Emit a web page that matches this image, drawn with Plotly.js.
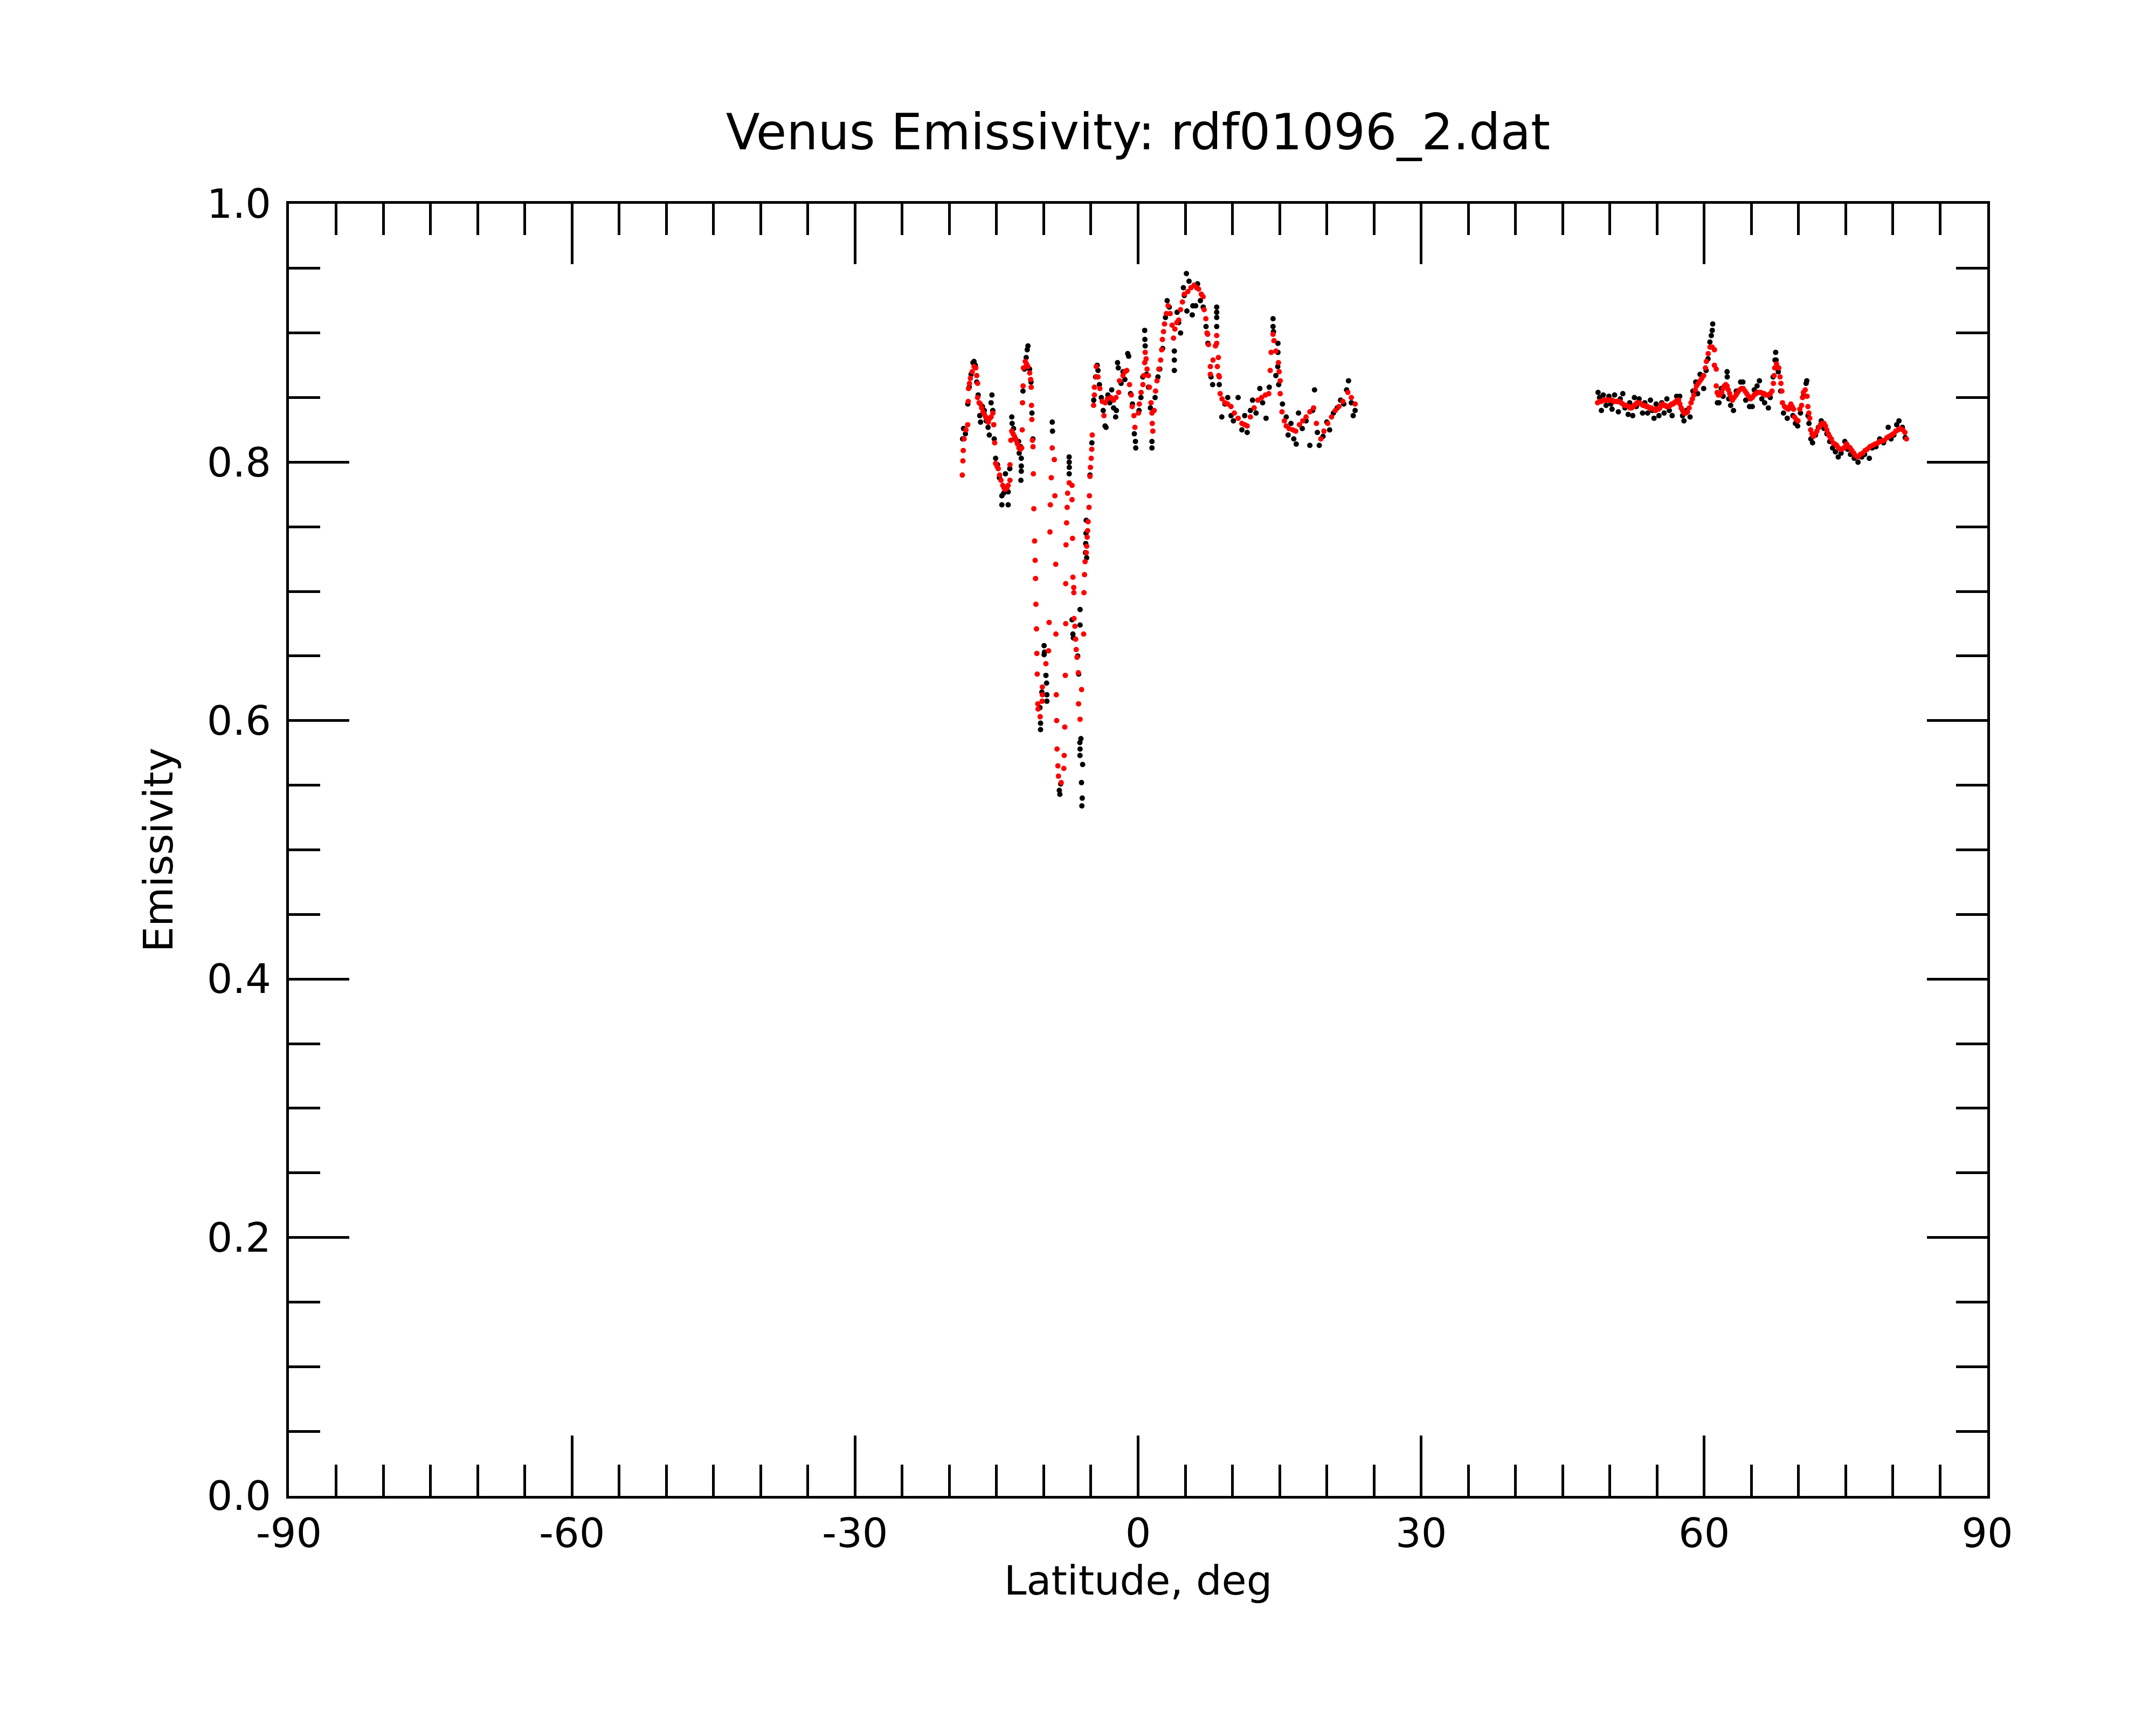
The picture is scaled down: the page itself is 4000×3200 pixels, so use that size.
<!DOCTYPE html>
<html>
<head>
<meta charset="utf-8">
<script src="https://cdn.plot.ly/plotly-3.0.1.min.js"></script>
<style>
  html, body { margin: 0; padding: 0; background: #ffffff; }
  #chart { width: 4000px; height: 3200px; }
</style>
</head>
<body>
<div id="chart"></div>
<script>
// ---------------- DATA ----------------
// Raw emissivity samples (black), southern / equatorial pass
var latBlackS = [-18.60,-18.50,-18.30,-18.05,-17.90,-17.70,-17.50,-17.39,-17.25,-17.10,-16.95,-16.78,-16.70,-16.50,-16.30,-16.10,-15.90,-15.77,-15.58,-15.49,-15.40,-15.25,-15.10,-14.90,-14.70,-14.44,-14.44,-14.25,-14.06,-13.90,-13.77,-13.77,-13.60,-13.39,-13.35,-13.20,-13.00,-12.80,-12.67,-12.60,-12.45,-12.38,-12.38,-12.38,-12.42,-12.20,-12.05,-11.86,-11.75,-11.67,-11.50,-11.35,-11.25,-11.15,
  -10.40,-10.34,-10.34,-10.20,-9.96,-9.92,-9.96,-9.77,-9.70,-9.67,-9.67,-9.10,-9.07,-8.29,-8.35,-8.20,-7.31,-7.30,-7.29,-7.30,-7.00,-6.91,-6.86,-6.40,-6.30,-6.15,-6.15,-6.06,-6.17,-6.15,-6.16,-5.88,-6.00,-5.92,-5.96,-5.50,-5.52,-5.55,-5.58,-5.45,-5.10,-4.90,-4.70,-4.50,-4.34,-4.25,-4.10,-3.90,-3.70,-3.50,-3.40,-3.20,-3.00,-2.80,-2.60,-2.38,-2.30,-2.18,-2.10,-1.80,-1.60,-1.40,-1.10,-1.00,-0.80,-0.60,-0.40,-0.25,-0.28,
  0.10,0.30,0.50,0.70,0.72,0.75,0.90,1.10,1.30,1.47,1.47,1.80,2.10,2.30,2.60,2.90,3.08,3.30,3.84,3.84,3.84,4.13,4.30,4.50,4.80,4.90,5.12,5.17,5.40,5.74,5.80,6.10,6.30,6.60,6.90,7.20,7.40,7.73,7.90,8.33,8.33,8.33,8.33,8.60,8.87,9.20,9.50,9.85,10.10,10.60,11.00,11.30,11.56,11.90,12.13,12.50,12.90,13.20,13.56,13.90,14.30,14.30,14.35,14.60,14.82,14.82,14.80,14.90,15.30,15.70,15.90,16.20,16.50,16.76,17.00,17.40,17.80,18.20,18.50,18.70,19.00,19.20,19.60,20.00,20.30,20.70,21.10,21.46,21.80,22.10,22.30,22.60,22.80,23.00];
var emisBlackS = [0.818,0.826,0.822,0.845,0.858,0.868,0.877,0.878,0.875,0.862,0.852,0.836,0.831,0.843,0.840,0.832,0.827,0.821,0.846,0.852,0.840,0.818,0.803,0.798,0.788,0.774,0.767,0.776,0.791,0.778,0.767,0.777,0.795,0.835,0.830,0.826,0.818,0.815,0.816,0.807,0.812,0.803,0.797,0.793,0.786,0.855,0.872,0.881,0.887,0.890,0.872,0.862,0.838,0.818,
  0.610,0.598,0.593,0.622,0.658,0.653,0.651,0.635,0.629,0.620,0.615,0.831,0.824,0.543,0.546,0.551,0.804,0.800,0.796,0.791,0.678,0.667,0.664,0.650,0.636,0.686,0.674,0.586,0.583,0.578,0.573,0.566,0.552,0.540,0.534,0.755,0.745,0.737,0.730,0.726,0.790,0.815,0.848,0.866,0.875,0.871,0.860,0.850,0.840,0.828,0.827,0.852,0.846,0.856,0.842,0.835,0.840,0.877,0.873,0.861,0.870,0.864,0.884,0.882,0.853,0.845,0.822,0.811,0.816,
  0.840,0.850,0.866,0.902,0.895,0.890,0.868,0.858,0.842,0.811,0.816,0.850,0.866,0.872,0.888,0.912,0.925,0.920,0.886,0.879,0.871,0.916,0.908,0.900,0.935,0.929,0.946,0.917,0.940,0.914,0.921,0.921,0.938,0.925,0.920,0.905,0.892,0.866,0.860,0.920,0.916,0.912,0.905,0.860,0.835,0.845,0.850,0.836,0.832,0.850,0.825,0.836,0.823,0.840,0.848,0.838,0.857,0.846,0.834,0.858,0.911,0.905,0.901,0.867,0.892,0.885,0.874,0.860,0.845,0.835,0.821,0.830,0.818,0.814,0.838,0.826,0.832,0.813,0.840,0.856,0.823,0.813,0.820,0.831,0.825,0.838,0.842,0.848,0.845,0.856,0.863,0.846,0.836,0.840];

// Raw emissivity samples (black), northern pass
var latBlackN = [48.75,48.90,49.10,49.30,49.60,49.90,50.10,50.23,50.50,50.75,50.90,51.10,51.37,51.60,51.94,52.10,52.42,52.60,52.80,53.10,53.46,53.70,54.00,54.30,54.50,54.68,54.90,55.20,55.50,55.75,56.04,56.30,56.60,56.85,57.08,57.40,57.70,57.85,58.10,58.50,58.80,59.10,59.30,59.56,59.94,60.20,60.40,60.60,60.75,60.85,60.90,61.40,61.56,61.80,62.00,62.42,62.44,62.60,62.80,63.10,63.40,63.86,64.10,64.40,64.80,65.09,65.30,65.60,65.85,66.10,66.40,66.80,67.00,67.30,67.50,67.57,67.62,67.85,68.10,68.40,68.80,69.10,69.40,69.66,69.90,70.20,70.50,70.80,70.87,71.00,71.10,71.30,71.48,71.80,72.10,72.40,72.70,73.00,73.30,73.60,73.90,74.20,74.50,74.90,75.20,75.50,75.90,76.30,76.70,77.00,77.50,77.80,78.20,78.60,79.00,79.50,79.80,80.10,80.40,80.64,81.00,81.30];
var emisBlackN = [0.854,0.850,0.840,0.852,0.844,0.851,0.845,0.841,0.852,0.847,0.839,0.849,0.853,0.842,0.837,0.846,0.836,0.850,0.843,0.849,0.838,0.846,0.838,0.848,0.840,0.834,0.845,0.836,0.846,0.838,0.849,0.840,0.836,0.846,0.851,0.851,0.836,0.832,0.840,0.835,0.855,0.862,0.853,0.868,0.857,0.871,0.880,0.893,0.898,0.902,0.907,0.846,0.846,0.857,0.851,0.870,0.866,0.849,0.844,0.840,0.855,0.862,0.862,0.848,0.843,0.843,0.856,0.859,0.863,0.849,0.846,0.842,0.850,0.866,0.879,0.885,0.879,0.870,0.855,0.838,0.834,0.842,0.836,0.830,0.828,0.838,0.851,0.861,0.863,0.836,0.830,0.818,0.815,0.821,0.827,0.832,0.826,0.822,0.816,0.811,0.808,0.804,0.807,0.816,0.810,0.806,0.803,0.800,0.804,0.806,0.803,0.811,0.812,0.818,0.815,0.827,0.818,0.821,0.829,0.832,0.827,0.819];

// Smoothed emissivity (red), southern / equatorial pass
var latRedS = [-18.63,-18.57,-18.53,-18.44,-18.25,-18.06,-18.00,-17.97,-17.87,-17.77,-17.58,-17.39,-17.20,-17.10,-17.01,-17.01,-16.85,-16.72,-16.58,-16.44,-16.30,-16.15,-16.00,-15.87,-15.72,-15.58,-15.39,-15.30,-15.20,-15.10,-14.96,-14.82,-14.68,-14.53,-14.34,-14.20,-14.06,-13.92,-13.77,-13.58,-13.58,-13.49,-13.39,-13.25,-13.10,-12.91,-12.77,-12.63,-12.48,-12.34,-12.28,-12.25,-12.19,-12.15,-11.96,-11.82,-11.67,-11.49,-11.39,-11.33,-11.30,-11.26,-11.20,-11.14,-11.10,-11.05,-10.97,-10.91,-10.87,-10.83,-10.77,-10.73,-10.69,-10.63,-10.60,-10.38,-10.15,-10.15,-10.17,-9.77,-9.49,-9.43,-9.34,-9.30,-9.20,-9.10,-8.88,-8.82,-8.73,-8.71,-8.67,-8.63,-8.59,-8.50,-8.44,-8.15,-7.87,-7.83,-7.77,-7.71,-7.67,-7.67,-7.64,-7.58,-7.52,-7.47,-7.30,-7.00,-7.00,-6.95,-6.91,-6.82,-6.81,-6.79,-6.70,-6.62,-6.56,-6.47,-6.33,-6.31,-6.15,-5.99,-5.77,-5.74,-5.68,-5.62,-5.49,-5.45,-5.40,-5.35,-5.30,-5.20,-5.16,-5.10,-5.05,-4.97,-4.91,-4.86,-4.72,-4.63,-4.63,-4.44,-4.44,-4.25,-4.05,-3.80,-3.62,-3.49,-3.25,-2.90,-2.60,-2.34,-2.06,-1.97,-1.60,-1.40,-1.20,-0.91,-0.72,-0.63,-0.44,-0.34,
  0.04,0.13,0.32,0.51,0.60,0.70,0.75,0.85,0.95,1.09,1.20,1.37,1.47,1.50,1.56,1.70,1.85,2.00,2.20,2.39,2.50,2.58,2.70,2.80,3.00,3.18,3.40,3.60,3.75,3.90,4.10,4.30,4.50,4.70,4.90,5.27,5.60,5.94,6.20,6.41,6.70,6.89,7.00,7.18,7.30,7.37,7.46,7.66,7.66,7.94,8.20,8.33,8.33,8.51,8.40,8.55,8.61,8.70,8.90,9.20,9.50,9.85,10.20,10.60,11.00,11.30,11.56,11.90,12.30,12.70,13.09,13.50,13.85,14.00,14.10,14.30,14.40,14.60,14.87,14.95,15.06,15.06,15.25,15.50,15.70,16.00,16.40,16.70,17.10,17.45,17.80,18.20,18.60,18.90,19.37,19.70,20.10,20.50,20.90,21.28,21.70,22.23,22.60,23.00];
var emisRedS = [0.790,0.801,0.809,0.818,0.825,0.829,0.847,0.857,0.861,0.865,0.870,0.874,0.873,0.867,0.861,0.850,0.846,0.845,0.842,0.839,0.837,0.835,0.833,0.831,0.834,0.835,0.838,0.829,0.815,0.799,0.797,0.795,0.790,0.786,0.782,0.780,0.779,0.780,0.782,0.786,0.798,0.817,0.824,0.822,0.820,0.817,0.814,0.811,0.810,0.811,0.825,0.846,0.859,0.873,0.878,0.876,0.874,0.869,0.864,0.858,0.844,0.833,0.817,0.812,0.791,0.764,0.739,0.724,0.710,0.690,0.671,0.652,0.636,0.613,0.609,0.603,0.626,0.620,0.615,0.644,0.654,0.676,0.746,0.767,0.788,0.811,0.802,0.774,0.721,0.667,0.620,0.600,0.578,0.565,0.557,0.552,0.563,0.573,0.595,0.635,0.675,0.706,0.736,0.753,0.765,0.776,0.784,0.782,0.771,0.741,0.711,0.703,0.699,0.679,0.673,0.663,0.655,0.649,0.637,0.613,0.601,0.624,0.667,0.699,0.713,0.723,0.730,0.735,0.742,0.747,0.754,0.765,0.774,0.789,0.796,0.803,0.810,0.821,0.844,0.852,0.858,0.866,0.874,0.866,0.857,0.847,0.836,0.846,0.849,0.850,0.848,0.850,0.854,0.863,0.867,0.870,0.871,0.860,0.852,0.843,0.836,0.827,
  0.838,0.845,0.854,0.860,0.867,0.877,0.885,0.880,0.872,0.867,0.858,0.846,0.838,0.830,0.824,0.840,0.855,0.863,0.872,0.879,0.887,0.895,0.901,0.907,0.915,0.921,0.915,0.906,0.896,0.903,0.908,0.910,0.918,0.924,0.930,0.932,0.935,0.937,0.935,0.934,0.930,0.928,0.918,0.911,0.900,0.899,0.891,0.874,0.868,0.879,0.890,0.898,0.892,0.881,0.874,0.867,0.866,0.853,0.849,0.846,0.845,0.843,0.838,0.834,0.830,0.829,0.828,0.835,0.842,0.848,0.850,0.852,0.853,0.871,0.885,0.899,0.894,0.886,0.877,0.870,0.863,0.853,0.839,0.832,0.828,0.826,0.825,0.824,0.829,0.832,0.835,0.839,0.842,0.830,0.818,0.824,0.830,0.835,0.840,0.843,0.847,0.854,0.850,0.845];

// Smoothed emissivity (red), northern pass
var latRedN = [48.70,48.90,49.10,49.30,49.47,49.65,49.85,50.05,50.23,50.40,50.60,50.80,50.99,51.18,51.37,51.55,51.75,52.00,52.15,52.30,52.45,52.60,52.75,52.90,53.10,53.30,53.50,53.66,53.85,54.00,54.20,54.40,54.55,54.70,54.85,55.00,55.15,55.30,55.45,55.56,55.70,55.85,56.00,56.13,56.25,56.40,56.55,56.70,56.85,57.00,57.15,57.28,57.42,57.56,57.70,57.85,58.05,58.23,58.40,58.60,58.75,58.90,59.05,59.18,59.37,59.56,59.75,59.94,60.13,60.23,60.42,60.61,60.85,61.08,61.08,61.27,61.27,61.37,61.50,61.66,61.85,62.00,62.13,62.28,62.42,62.55,62.70,62.85,62.99,63.18,63.37,63.55,63.75,63.95,64.13,64.32,64.51,64.70,64.90,65.10,65.28,65.47,65.66,65.85,66.00,66.23,66.35,66.50,66.65,66.80,67.00,67.19,67.33,67.41,67.47,67.66,67.90,68.04,68.13,68.23,68.29,68.51,68.70,68.90,69.05,69.18,69.32,69.47,69.56,69.75,69.94,70.13,70.32,70.42,70.51,70.70,70.90,70.99,71.09,71.18,71.28,71.42,71.57,71.75,71.94,72.15,72.33,72.50,72.70,72.85,72.99,73.15,73.28,73.47,73.66,73.85,74.04,74.23,74.42,74.60,74.80,74.95,75.09,75.28,75.47,75.65,75.85,76.05,76.30,76.55,76.80,77.05,77.27,77.55,77.85,78.10,78.40,78.60,78.80,79.10,79.37,79.60,79.85,80.05,80.30,80.55,80.80,81.05,81.27,81.43];
var emisRedN = [0.846,0.847,0.847,0.848,0.848,0.848,0.848,0.848,0.848,0.847,0.847,0.847,0.847,0.846,0.845,0.844,0.844,0.843,0.842,0.842,0.843,0.844,0.845,0.846,0.846,0.845,0.844,0.844,0.843,0.843,0.842,0.842,0.841,0.841,0.840,0.841,0.841,0.842,0.844,0.845,0.844,0.844,0.843,0.843,0.843,0.844,0.845,0.845,0.846,0.847,0.848,0.848,0.845,0.842,0.840,0.838,0.838,0.839,0.842,0.846,0.849,0.852,0.856,0.859,0.861,0.863,0.865,0.867,0.873,0.878,0.884,0.889,0.889,0.887,0.875,0.872,0.859,0.854,0.852,0.852,0.854,0.857,0.859,0.860,0.859,0.856,0.853,0.850,0.848,0.850,0.852,0.854,0.856,0.857,0.857,0.855,0.853,0.851,0.849,0.850,0.852,0.853,0.854,0.854,0.854,0.853,0.853,0.852,0.852,0.852,0.853,0.855,0.861,0.867,0.873,0.876,0.873,0.866,0.861,0.855,0.846,0.843,0.842,0.841,0.843,0.845,0.843,0.841,0.835,0.833,0.832,0.841,0.844,0.850,0.854,0.856,0.851,0.843,0.838,0.834,0.825,0.822,0.820,0.822,0.824,0.827,0.829,0.830,0.830,0.828,0.825,0.822,0.820,0.818,0.815,0.814,0.813,0.811,0.810,0.810,0.811,0.812,0.814,0.812,0.811,0.809,0.807,0.805,0.804,0.806,0.807,0.809,0.810,0.812,0.813,0.814,0.815,0.816,0.816,0.817,0.819,0.820,0.821,0.822,0.824,0.825,0.826,0.825,0.823,0.818];

// Tick labels
var xTickVals = [-90, -60, -30, 0, 30, 60, 90];
var xTickText = ["-90", "-60", "-30", "0", "30", "60", "90"];
var yTickVals = [0.0, 0.2, 0.4, 0.6, 0.8, 1.0];
var yTickText = ["0.0", "0.2", "0.4", "0.6", "0.8", "1.0"];

var chartTitle = "Venus Emissivity: rdf01096_2.dat";
var xTitle = "Latitude, deg";
var yTitle = "Emissivity";

// ---------------- PLOT ----------------
var FONT = "DejaVu Sans, Liberation Sans, sans-serif";

var traceBlack = {
  x: latBlackS.concat(latBlackN),
  y: emisBlackS.concat(emisBlackN),
  type: "scatter",
  mode: "markers",
  marker: { color: "#000000", size: 10, line: { width: 0 } },
  hoverinfo: "skip",
  showlegend: false
};
var traceRed = {
  x: latRedS.concat(latRedN),
  y: emisRedS.concat(emisRedN),
  type: "scatter",
  mode: "markers",
  marker: { color: "#ff0000", size: 10, line: { width: 0 } },
  hoverinfo: "skip",
  showlegend: false
};

var axisCommon = {
  showgrid: false,
  zeroline: false,
  showline: true,
  linecolor: "#000000",
  linewidth: 5,
  mirror: "allticks",
  ticks: "inside",
  ticklen: 112,
  tickwidth: 5,
  tickcolor: "#000000",
  tickfont: { family: FONT, size: 75, color: "#000000" },
  automargin: false
};

var layout = {
  width: 4000,
  height: 3200,
  paper_bgcolor: "#ffffff",
  plot_bgcolor: "#ffffff",
  margin: { l: 536, r: 313, t: 378, b: 425, pad: 0 },
  font: { family: FONT, size: 75, color: "#000000" },
  title: {
    text: chartTitle,
    font: { family: FONT, size: 92, color: "#000000" },
    x: 0.5, xref: "paper", xanchor: "center",
    y: 1 - 245 / 3200, yref: "container", yanchor: "middle"
  },
  xaxis: Object.assign({}, axisCommon, {
    range: [-90, 90],
    tickmode: "array",
    tickvals: xTickVals,
    ticktext: xTickText,
    minor: { tick0: -90, dtick: 5, ticks: "inside", ticklen: 58, tickwidth: 5, tickcolor: "#000000", showgrid: false },
    title: { text: xTitle, font: { family: FONT, size: 75, color: "#000000" }, standoff: 0 }
  }),
  yaxis: Object.assign({}, axisCommon, {
    range: [0, 1],
    tickmode: "array",
    tickvals: yTickVals,
    ticktext: yTickText,
    ticklabelstandoff: 13,
    minor: { tick0: 0, dtick: 0.05, ticks: "inside", ticklen: 58, tickwidth: 5, tickcolor: "#000000", showgrid: false },
    title: { text: yTitle, font: { family: FONT, size: 75, color: "#000000" }, standoff: 40 }
  })
};

Plotly.newPlot("chart", [traceBlack, traceRed], layout, { displayModeBar: false, staticPlot: true });
</script>
</body>
</html>
